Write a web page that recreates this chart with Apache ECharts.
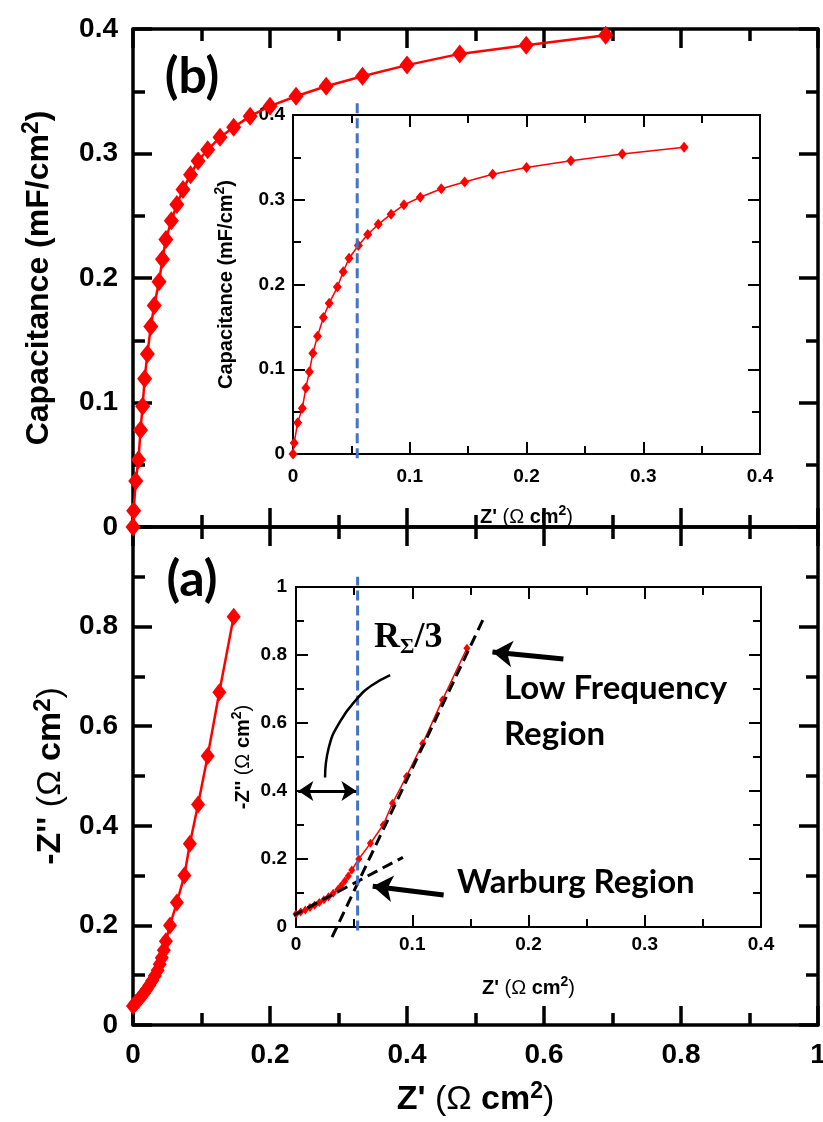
<!DOCTYPE html>
<html><head><meta charset="utf-8">
<script src="https://cdn.jsdelivr.net/npm/echarts@6/dist/echarts.min.js"></script>
<style>html,body{margin:0;padding:0;background:#fff}#c{width:823px;height:1122px}</style>
</head><body><div id="c"></div>
<script>
// ---------- DATA ----------
// Panel (b): capacitance (mF/cm^2) vs Z' (Ohm cm^2)
const capZ = [0,0.001,0.004,0.008,0.011,0.014,0.017,0.021,0.026,0.031,0.038,0.043,0.048,0.056,0.064,0.073,0.084,0.095,0.109,0.127,0.147,0.171,0.200,0.238,0.282,0.335,0.400,0.477,0.574,0.690];
const capC = [0,0.013,0.037,0.054,0.078,0.097,0.119,0.139,0.161,0.178,0.197,0.215,0.231,0.246,0.259,0.271,0.283,0.294,0.303,0.313,0.321,0.330,0.338,0.346,0.354,0.362,0.371,0.380,0.387,0.395];
const insetCapMaxZ = 0.34;
// Panel (a): Nyquist -Z'' vs Z'
const nyqZr = [0.000,0.004,0.008,0.012,0.016,0.020,0.024,0.028,0.032,0.036,0.039,0.042,0.045,0.048,0.054,0.064,0.075,0.083,0.095,0.109,0.126,0.147];
const nyqZi = [0.038,0.044,0.050,0.057,0.064,0.072,0.080,0.089,0.099,0.110,0.122,0.135,0.150,0.168,0.200,0.246,0.300,0.364,0.443,0.540,0.668,0.820];
// R_Sigma/3 position (Z')
const rSigma3B = 0.055;
const rSigma3A = 0.053;
// fitted lines in inset (a)
const lowFreqFitZr = [0.031, 0.162];
const lowFreqFitZi = [-0.03, 0.912];
const warburgFitZr = [-0.003, 0.092];
const warburgFitZi = [0.033, 0.205];
// curved pointer in inset (a)
const arcZr = [0.025,0.028,0.038,0.053,0.065,0.081];
const arcZi = [0.440,0.525,0.605,0.673,0.710,0.741];
// arrows in inset (a): [x1,y1,x2,y2]
const doubleArrow = [0.002,0.4,0.052,0.4];
const lowFreqArrow = [0.230,0.788,0.169,0.809];
const warburgArrow = [0.127,0.094,0.066,0.120];
// tick labels
const mainXLabels = ['0','0.2','0.4','0.6','0.8','1'];
const mainBYLabels = ['0','0.1','0.2','0.3','0.4'];
const mainAYLabels = ['0','0.2','0.4','0.6','0.8',''];
const insetXLabels = ['0','0.1','0.2','0.3','0.4'];
const insetBYLabels = ['0','0.1','0.2','0.3','0.4'];
const insetAYLabels = ['0','0.2','0.4','0.6','0.8','1'];

// ---------- BUILD ----------
const F = '"Liberation Sans", Arial, sans-serif';
const FL = 'Lato, "Open Sans", sans-serif';
const zip = (a, b) => a.map((v, i) => [v, b[i]]);
const capPts = zip(capZ, capC);
const capInsetPts = capPts.filter(p => p[0] <= insetCapMaxZ);
const nyqPts = zip(nyqZr, nyqZi);

function richName(sz, sup) {
  return {
    b: {fontFamily: F, fontWeight: 'bold', fontSize: sz, color: '#000', lineHeight: sz + 6},
    r: {fontFamily: F, fontWeight: 'normal', fontSize: sz, color: '#000', lineHeight: sz + 6},
    s: {fontFamily: F, fontWeight: 'bold', fontSize: sup, color: '#000', verticalAlign: 'top', lineHeight: sup + 4}
  };
}
function axis(o) {
  const a = {
    type: 'value', gridIndex: o.grid, min: o.min, max: o.max, interval: o.interval,
    position: o.position,
    axisLine: {show: true, onZero: false, lineStyle: {color: '#000', width: o.lw}},
    axisTick: {show: true, inside: true, length: o.tl, lineStyle: {color: '#000', width: o.tw}},
    minorTick: {show: true, splitNumber: 2, length: o.ml, lineStyle: {color: '#000', width: o.tw}},
    splitLine: {show: false}, minorSplitLine: {show: false},
    axisLabel: {show: false},
    nameMoveOverlap: false
  };
  if (o.labels) {
    a.axisLabel = {
      show: true, margin: o.margin, fontFamily: F, fontWeight: 'bold', fontSize: o.fs, color: '#000',
      showMinLabel: true, showMaxLabel: true, hideOverlap: false,
      formatter: v => { const s = o.labels[Math.round((v - o.min) / o.interval)]; return s === undefined ? '' : s; }
    };
  }
  if (o.name) {
    a.name = o.name; a.nameLocation = 'middle'; a.nameGap = o.nameGap;
    if (o.rotate) a.nameRotate = 90;
    a.nameTextStyle = {fontFamily: F, fontWeight: 'bold', fontSize: o.nfs, color: '#000', rich: richName(o.nfs, o.nsup)};
  }
  return a;
}
const mainStyle = {lw: 3.5, tw: 3.5, tl: 19, ml: 12};
const insetStyle = {lw: 2, tw: 2, tl: 12, ml: 8};
const M = (o) => Object.assign({}, mainStyle, o);
const I = (o) => Object.assign({}, insetStyle, o);

const xAxes = [
  axis(M({grid: 0, min: 0, max: 1, interval: 0.2, position: 'bottom'})),
  axis(M({grid: 0, min: 0, max: 1, interval: 0.2, position: 'top'})),
  axis(M({grid: 1, min: 0, max: 1, interval: 0.2, position: 'bottom', labels: mainXLabels, margin: 16, fs: 28,
    name: "{b|Z' }{r|(Ω }{b|cm}{s|2}{r|)}", nameGap: 55, nfs: 34, nsup: 23})),
  axis(M({grid: 1, min: 0, max: 1, interval: 0.2, position: 'top'})),
  axis(I({grid: 2, min: 0, max: 0.4, interval: 0.1, position: 'bottom', labels: insetXLabels, margin: 13, fs: 19,
    name: "{b|Z' }{r|(Ω }{b|cm}{s|2}{r|)}", nameGap: 50, nfs: 20, nsup: 14})),
  axis(I({grid: 2, min: 0, max: 0.4, interval: 0.1, position: 'top'})),
  axis(I({grid: 3, min: 0, max: 0.4, interval: 0.1, position: 'bottom', labels: insetXLabels, margin: 8, fs: 19,
    name: "{b|Z' }{r|(Ω }{b|cm}{s|2}{r|)}", nameGap: 48, nfs: 20, nsup: 14})),
  axis(I({grid: 3, min: 0, max: 0.4, interval: 0.1, position: 'top'}))
];
const yAxes = [
  axis(M({grid: 0, min: 0, max: 0.4, interval: 0.1, position: 'left', labels: mainBYLabels, margin: 15, fs: 28,
    name: '{b|Capacitance (mF/cm}{s|2}{b|)}', nameGap: 75, rotate: true, nfs: 32, nsup: 23})),
  axis(M({grid: 0, min: 0, max: 0.4, interval: 0.1, position: 'right'})),
  axis(M({grid: 1, min: 0, max: 1, interval: 0.2, position: 'left', labels: mainAYLabels, margin: 15, fs: 28,
    name: "{b|-Z'' }{r|(Ω }{b|cm}{s|2}{r|)}", nameGap: 62, rotate: true, nfs: 34, nsup: 24})),
  axis(M({grid: 1, min: 0, max: 1, interval: 0.2, position: 'right'})),
  axis(I({grid: 2, min: 0, max: 0.4, interval: 0.1, position: 'left', labels: insetBYLabels, margin: 8, fs: 19,
    name: '{b|Capacitance (mF/cm}{s|2}{b|)}', nameGap: 54, rotate: true, nfs: 20, nsup: 14})),
  axis(I({grid: 2, min: 0, max: 0.4, interval: 0.1, position: 'right'})),
  axis(I({grid: 3, min: 0, max: 1, interval: 0.2, position: 'left', labels: insetAYLabels, margin: 9, fs: 19,
    name: "{b|-Z'' }{r|(Ω }{b|cm}{s|2}{r|)}", nameGap: 40, rotate: true, nfs: 20, nsup: 14})),
  axis(I({grid: 3, min: 0, max: 1, interval: 0.2, position: 'right'}))
];

function arrowSeries(a, width, size, both) {
  return {
    type: 'line', xAxisIndex: 6, yAxisIndex: 6, clip: false, z: 8,
    data: [[a[0], a[1]], [a[2], a[3]]], showSymbol: false, symbol: 'none',
    lineStyle: {opacity: 0}, silent: true,
    markLine: {
      silent: true, animation: false,
      symbol: [both ? 'arrow' : 'none', 'arrow'], symbolSize: size,
      label: {show: false},
      lineStyle: {color: '#000', width: width, type: 'solid'},
      emphasis: {disabled: true},
      data: [[{coord: [a[0], a[1]]}, {coord: [a[2], a[3]]}]]
    }
  };
}

const series = [
  {type: 'line', xAxisIndex: 0, yAxisIndex: 0, data: capPts, clip: false, z: 3,
    symbol: 'diamond', symbolSize: [15, 19], itemStyle: {color: '#ff0000'},
    lineStyle: {color: '#ff0000', width: 2.5}},
  {type: 'line', xAxisIndex: 2, yAxisIndex: 2, data: nyqPts, clip: false, z: 3,
    symbol: 'diamond', symbolSize: [14, 18], itemStyle: {color: '#ff0000'},
    lineStyle: {color: '#ff0000', width: 2.5}},
  {type: 'line', xAxisIndex: 4, yAxisIndex: 4, data: capInsetPts, clip: false, z: 3,
    symbol: 'diamond', symbolSize: [9, 11], itemStyle: {color: '#ff0000'},
    lineStyle: {color: '#ff0000', width: 1.5}},
  {type: 'line', xAxisIndex: 6, yAxisIndex: 6, data: nyqPts, clip: false, z: 3,
    symbol: 'diamond', symbolSize: [7, 9], itemStyle: {color: '#ff0000'},
    lineStyle: {color: '#ff0000', width: 1.5}},
  {type: 'line', xAxisIndex: 6, yAxisIndex: 6, clip: false, z: 5, symbol: 'none',
    data: zip(lowFreqFitZr, lowFreqFitZi), lineStyle: {color: '#000', width: 3, type: [11, 6]}},
  {type: 'line', xAxisIndex: 6, yAxisIndex: 6, clip: false, z: 5, symbol: 'none',
    data: zip(warburgFitZr, warburgFitZi), lineStyle: {color: '#000', width: 3, type: [11, 6]}},
  {type: 'line', xAxisIndex: 4, yAxisIndex: 4, clip: false, z: 6, symbol: 'none',
    data: [[rSigma3B, -0.005], [rSigma3B, 0.418]], lineStyle: {color: '#4472c4', width: 3, type: [10, 5]}},
  {type: 'line', xAxisIndex: 6, yAxisIndex: 6, clip: false, z: 6, symbol: 'none',
    data: [[rSigma3A, -0.01], [rSigma3A, 1.03]], lineStyle: {color: '#4472c4', width: 3, type: [10, 5]}},
  {type: 'line', xAxisIndex: 6, yAxisIndex: 6, clip: false, z: 6, symbol: 'none', smooth: true,
    data: zip(arcZr, arcZi), lineStyle: {color: '#000', width: 2.5}},
  arrowSeries(doubleArrow, 3, 15, true),
  arrowSeries(lowFreqArrow, 5, 20, false),
  arrowSeries(warburgArrow, 5, 20, false)
];

const txt = (x, y, text, size, align, extra) => ({
  type: 'text', x: x, y: y, z: 100,
  style: Object.assign({text: text, fontFamily: FL, fontWeight: 'bold', fontSize: size, fill: '#000',
    align: align, verticalAlign: 'middle'}, extra || {})
});

const option = {
  animation: false,
  backgroundColor: '#fff',
  grid: [
    {left: 133, top: 29, width: 685, height: 498, outerBoundsMode: 'none'},
    {left: 133, top: 527, width: 685, height: 498, outerBoundsMode: 'none'},
    {left: 293, top: 115, width: 467, height: 339, show: true, backgroundColor: '#fff', borderWidth: 0, outerBoundsMode: 'none'},
    {left: 296, top: 587, width: 465, height: 340, show: true, backgroundColor: '#fff', borderWidth: 0, outerBoundsMode: 'none'}
  ],
  xAxis: xAxes,
  yAxis: yAxes,
  series: series,
  graphic: [
    txt(192, 77, '(b)', 50, 'center'),
    txt(192, 580, '(a)', 50, 'center'),
    txt(504, 688, 'Low Frequency', 33, 'left'),
    txt(504, 734, 'Region', 33, 'left'),
    txt(457, 882, 'Warburg Region', 33, 'left'),
    {type: 'text', x: 374, y: 638, z: 100, style: {
      text: '{R|R}{s|Σ}{R|/3}', align: 'left', verticalAlign: 'middle',
      rich: {
        R: {fontFamily: '"Liberation Serif", "DejaVu Serif", serif', fontWeight: 'bold', fontSize: 36, fill: '#000', color: '#000', lineHeight: 40},
        s: {fontFamily: '"Liberation Serif", "DejaVu Serif", serif', fontWeight: 'bold', fontSize: 22, fill: '#000', color: '#000', lineHeight: 16, verticalAlign: 'bottom'}
      }
    }}
  ]
};
const chart = echarts.init(document.getElementById('c'), null, {renderer: 'canvas'});
chart.setOption(option);
</script></body></html>
